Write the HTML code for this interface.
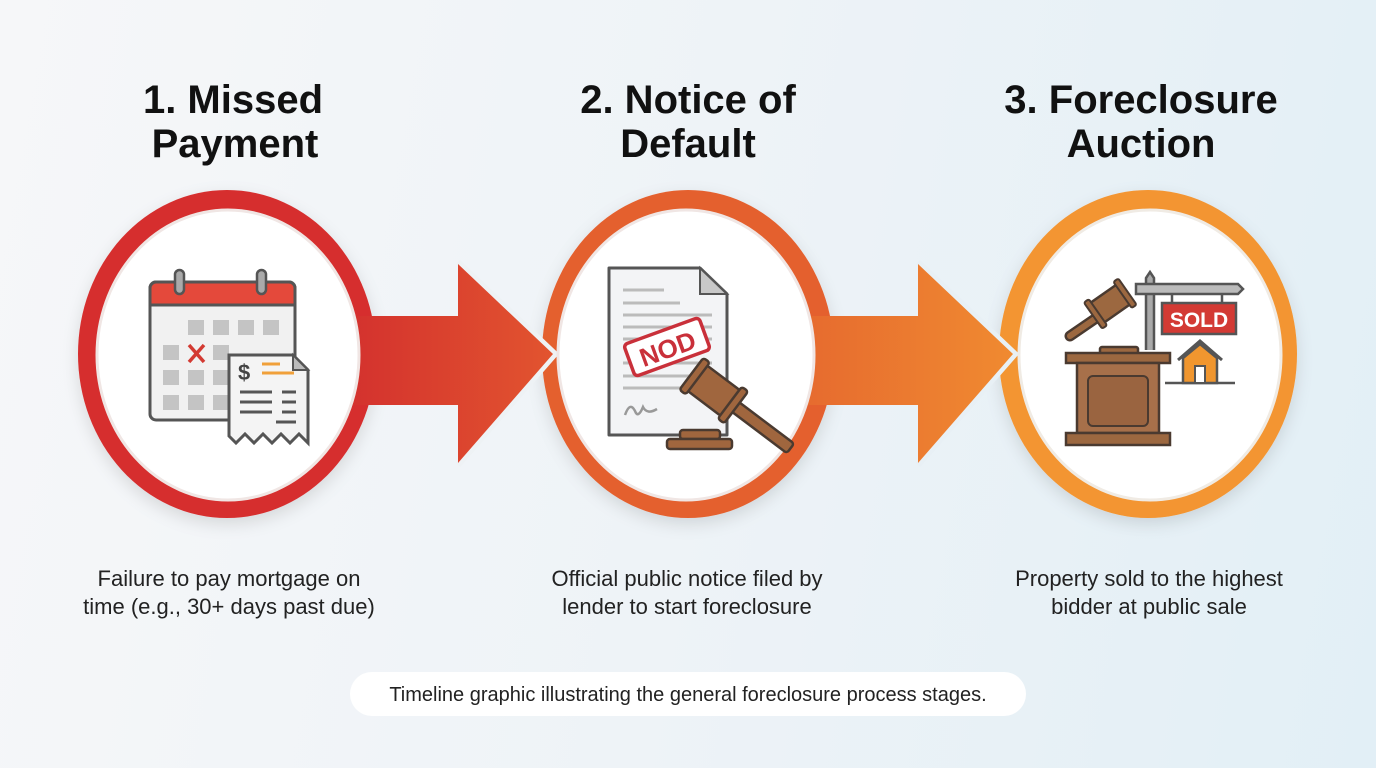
<!DOCTYPE html>
<html><head><meta charset="utf-8"><style>
html,body{margin:0;padding:0;width:1376px;height:768px;overflow:hidden}
body{background:linear-gradient(100deg,#f6f7f9 0%,#eef3f7 50%,#e2eff6 100%);font-family:"Liberation Sans",sans-serif}
svg{position:absolute;left:0;top:0}
</style></head><body>
<svg width="1376" height="768" viewBox="0 0 1376 768">
<defs>
<linearGradient id="ga" x1="0" x2="1"><stop offset="0" stop-color="#d3302e"/><stop offset="1" stop-color="#e2542f"/></linearGradient>
<linearGradient id="gb" x1="0" x2="1"><stop offset="0" stop-color="#e66a2f"/><stop offset="1" stop-color="#f08a30"/></linearGradient>
<filter id="sh" x="-20%" y="-20%" width="140%" height="140%"><feDropShadow dx="0" dy="6" stdDeviation="8" flood-color="#000" flood-opacity="0.12"/></filter>
</defs>
<!-- circles -->
<ellipse cx="227" cy="354" rx="149" ry="164" fill="#d62f2f" filter="url(#sh)"/>
<ellipse cx="688" cy="354" rx="146" ry="164" fill="#e4612f" filter="url(#sh)"/>
<ellipse cx="1148" cy="354" rx="149" ry="164" fill="#f39530" filter="url(#sh)"/>
<!-- arrows -->
<path d="M458 262 L555 354 L458 465" fill="none" stroke="#eef2f5" stroke-width="6"/>
<path d="M918 262 L1015 354 L918 465" fill="none" stroke="#e8f0f5" stroke-width="6"/>
<path d="M340 316 H458 V264 L553 354 L458 463 V405 H340 Z" fill="url(#ga)"/>
<path d="M800 316 H918 V264 L1013 354 L918 463 V405 H800 Z" fill="url(#gb)"/>
<!-- inner whites -->
<ellipse cx="228" cy="355" rx="131" ry="145" fill="#fff" stroke="#f0e6e4" stroke-width="3"/>
<ellipse cx="686" cy="355" rx="128" ry="145" fill="#fff" stroke="#f0e6e4" stroke-width="3"/>
<ellipse cx="1150" cy="355" rx="131" ry="145" fill="#fff" stroke="#f0ebe4" stroke-width="3"/>

<!-- icon 1 calendar -->
<rect x="150" y="282" width="145" height="138" rx="6" fill="#f1f1f1" stroke="#555" stroke-width="3"/>
<path d="M150 305 V288 a6 6 0 0 1 6 -6 H289 a6 6 0 0 1 6 6 V305 Z" fill="#e4493b" stroke="#555" stroke-width="3"/>
<rect x="175" y="270" width="9" height="24" rx="4.5" fill="#aaa" stroke="#555" stroke-width="2.5"/>
<rect x="257" y="270" width="9" height="24" rx="4.5" fill="#aaa" stroke="#555" stroke-width="2.5"/>
<g fill="#c4c4c4">
<rect x="188" y="320" width="16" height="15"/><rect x="213" y="320" width="16" height="15"/><rect x="238" y="320" width="16" height="15"/><rect x="263" y="320" width="16" height="15"/>
<rect x="163" y="345" width="16" height="15"/><rect x="213" y="345" width="16" height="15"/>
<rect x="163" y="370" width="16" height="15"/><rect x="188" y="370" width="16" height="15"/><rect x="213" y="370" width="16" height="15"/>
<rect x="163" y="395" width="16" height="15"/><rect x="188" y="395" width="16" height="15"/><rect x="213" y="395" width="16" height="15"/>
</g>
<path d="M189 345 L204 362 M204 345 L189 362" stroke="#d33a32" stroke-width="3.5"/>
<path d="M229 355 H293 L308 370 V443 L299 434 L290 443 L281 434 L272 443 L263 434 L254 443 L245 434 L236 443 L229 436 Z" fill="#f4f4f4" stroke="#555" stroke-width="3"/>
<path d="M293 355 V370 H308 Z" fill="#bbb" stroke="#555" stroke-width="2"/>
<text x="238" y="380" font-size="22" font-weight="bold" fill="#444">$</text>
<path d="M262 364 H280 M262 373 H294" stroke="#f0a03a" stroke-width="3"/>
<path d="M240 392 H272 M282 392 H296 M240 402 H272 M282 402 H296 M240 412 H272 M282 412 H296 M276 422 H296" stroke="#555" stroke-width="3"/>

<!-- icon 2 document -->
<path d="M609 268 H700 L727 294 V435 H609 Z" fill="#f3f4f6" stroke="#555" stroke-width="3" stroke-linejoin="round"/>
<path d="M700 268 V294 H727 Z" fill="#c8c8c8" stroke="#555" stroke-width="2"/>
<g stroke="#bbb" stroke-width="3"><path d="M623 290 H664 M623 303 H680 M623 315 H712 M623 327 H712 M623 339 H712 M623 363 H712 M623 376 H698 M623 388 H690"/></g>
<path d="M625 415 q5 -14 10 -4 q3 8 8 -4 q4 8 14 2" fill="none" stroke="#999" stroke-width="2.5"/>
<g transform="rotate(-20 667 347)"><rect x="627" y="330" width="80" height="34" rx="4" fill="#fff" stroke="#c9303a" stroke-width="3.5"/><text x="667" y="358" font-size="26" font-weight="bold" fill="#c9303a" text-anchor="middle">NOD</text></g>
<g transform="rotate(37 713 390)">
<rect x="740" y="384" width="70" height="12" rx="3" fill="#a0663e" stroke="#4a3a30" stroke-width="2.5"/>
<rect x="692" y="374" width="44" height="32" rx="4" fill="#a0663e" stroke="#4a3a30" stroke-width="2.5"/>
<rect x="686" y="370" width="8" height="40" rx="3" fill="#a0663e" stroke="#4a3a30" stroke-width="2.5"/>
<rect x="734" y="370" width="8" height="40" rx="3" fill="#a0663e" stroke="#4a3a30" stroke-width="2.5"/>
</g>
<rect x="680" y="430" width="40" height="9" rx="3" fill="#a0663e" stroke="#4a3a30" stroke-width="2.5"/>
<rect x="667" y="439" width="65" height="10" rx="3" fill="#a0663e" stroke="#4a3a30" stroke-width="2.5"/>

<!-- icon 3 auction -->
<path d="M1146 350 V278 L1150 272 L1154 278 V350" fill="#aaa" stroke="#555" stroke-width="2.5"/>
<path d="M1136 284 H1238 L1243 289 L1238 294 H1136 Z" fill="#bbb" stroke="#555" stroke-width="2.5"/>
<path d="M1172 294 V303 M1222 294 V303" stroke="#555" stroke-width="2.5"/>
<rect x="1162" y="303" width="74" height="31" fill="#d33a34" stroke="#555" stroke-width="2.5"/>
<text x="1199" y="327" font-size="21" font-weight="bold" fill="#fff" text-anchor="middle">SOLD</text>
<path d="M1165 383 H1235" stroke="#555" stroke-width="2.5"/>
<path d="M1178 360 L1200 341 L1222 360" fill="none" stroke="#555" stroke-width="3"/>
<path d="M1183 358 L1200 344 L1217 358 V383 H1183 Z" fill="#f0962f" stroke="#555" stroke-width="2.5"/>
<rect x="1195" y="366" width="10" height="17" fill="#fff" stroke="#555" stroke-width="2"/>
<path d="M1070 336 L1105 312" stroke="#4a3a30" stroke-width="11" stroke-linecap="round"/>
<path d="M1070 336 L1105 312" stroke="#9c6840" stroke-width="6" stroke-linecap="round"/>
<g transform="rotate(-35 1110 305)"><rect x="1094" y="292" width="34" height="24" rx="3" fill="#9c6840" stroke="#4a3a30" stroke-width="2.5"/><rect x="1090" y="288" width="6" height="32" rx="2" fill="#9c6840" stroke="#4a3a30" stroke-width="2"/><rect x="1126" y="288" width="6" height="32" rx="2" fill="#9c6840" stroke="#4a3a30" stroke-width="2"/></g>
<rect x="1100" y="347" width="38" height="8" rx="2" fill="#9c6840" stroke="#4a3a30" stroke-width="2.5"/>
<path d="M1066 353 H1170 V363 H1066 Z" fill="#9c6840" stroke="#4a3a30" stroke-width="2.5"/>
<rect x="1077" y="363" width="82" height="70" fill="#a7704a" stroke="#4a3a30" stroke-width="2.5"/>
<rect x="1088" y="376" width="60" height="50" rx="5" fill="#9a6440" stroke="#4a3a30" stroke-width="2"/>
<rect x="1066" y="433" width="104" height="12" fill="#9c6840" stroke="#4a3a30" stroke-width="2.5"/>

<!-- titles -->
<g font-weight="bold" font-size="40" fill="#111" text-anchor="middle">
<text x="233" y="113">1. Missed</text><text x="235" y="157">Payment</text>
<text x="688" y="113">2. Notice of</text><text x="688" y="157">Default</text>
<text x="1141" y="113">3. Foreclosure</text><text x="1141" y="157">Auction</text>
</g>
<g font-size="22" fill="#222" text-anchor="middle">
<text x="229" y="586">Failure to pay mortgage on</text><text x="229" y="614">time (e.g., 30+ days past due)</text>
<text x="687" y="586">Official public notice filed by</text><text x="687" y="614">lender to start foreclosure</text>
<text x="1149" y="586">Property sold to the highest</text><text x="1149" y="614">bidder at public sale</text>
</g>
<rect x="350" y="672" width="676" height="44" rx="22" fill="#fff"/>
<text x="688" y="701" font-size="20" fill="#222" text-anchor="middle">Timeline graphic illustrating the general foreclosure process stages.</text>
</svg>
</body></html>
